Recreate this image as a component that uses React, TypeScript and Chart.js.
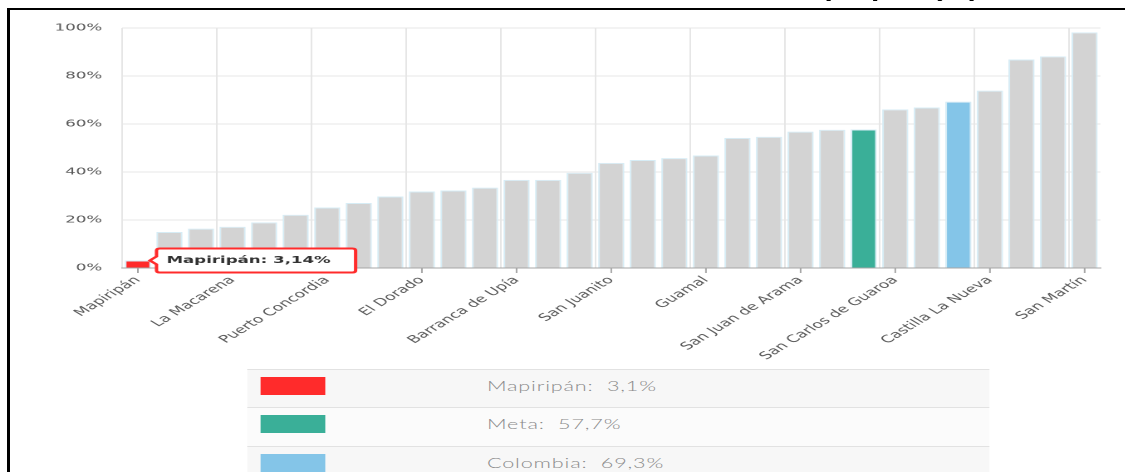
import React, { useEffect, useRef } from "react";
import { Chart, registerables, Tooltip } from "chart.js";

Chart.register(...registerables);

(Tooltip.positioners as any).barTop = function (items: any[]) {
  if (!items.length) return false;
  const el = items[0].element;
  return { x: el.x, y: el.y };
};

// ---------------- data ----------------
const titleText = "Gráfico 33. Cobertura de alcantarillado Mapiripán (%)";

const categories = [
  "Mapiripán", "Uribe", "Puerto Gaitán", "La Macarena", "Mesetas", "Vistahermosa",
  "Puerto Concordia", "Puerto Rico", "Puerto Lleras", "El Dorado", "El Calvario", "Lejanías",
  "Barranca de Upía", "El Castillo", "Cabuyaro", "San Juanito", "Fuente de Oro", "Puerto López",
  "Guamal", "Cubarral", "Granada", "San Juan de Arama", "Restrepo", "Meta",
  "San Carlos de Guaroa", "Cumaral", "Colombia", "Castilla La Nueva", "Acacías", "Villavicencio",
  "San Martín",
];

const coverage = [
  3.14, 15.0, 16.4, 17.2, 19.0, 22.2,
  25.2, 27.1, 29.8, 31.9, 32.3, 33.5,
  36.7, 36.7, 39.7, 43.8, 45.0, 45.8,
  46.9, 54.2, 54.7, 56.8, 57.6, 57.7,
  66.1, 66.9, 69.3, 73.9, 86.9, 88.2,
  98.2,
];

const labelEvery = 3;
const yMin = 0;
const yMax = 100;
const yStep = 20;

const legendNames = ["Mapiripán", "Meta", "Colombia"];
const legendValues = ["3,1%", "57,7%", "69,3%"];

// ---------------- style ----------------
const STRETCH = 1.66;
const RED = "#ff2b2b";
const GREEN = "#3aaf98";
const BLUE = "#84c5e8";
const GREY = "#d3d3d3";
const legendColors = [RED, GREEN, BLUE];
const FONT = "DejaVu Sans";

function barColor(name: string) {
  if (name === legendNames[0]) return RED;
  if (name === legendNames[1]) return GREEN;
  if (name === legendNames[2]) return BLUE;
  return GREY;
}

const tickMarks = {
  id: "tickMarks",
  afterDatasetsDraw(chart: any) {
    const xs = chart.scales.x;
    const { ctx, chartArea } = chart;
    ctx.save();
    ctx.strokeStyle = "#a6a6a6";
    ctx.lineWidth = 1;
    xs.ticks.forEach((_t: any, i: number) => {
      if (i % labelEvery !== 0) return;
      const px = xs.getPixelForTick(i);
      ctx.beginPath();
      ctx.moveTo(px, chartArea.bottom);
      ctx.lineTo(px, chartArea.bottom + 5);
      ctx.stroke();
    });
    ctx.restore();
  },
};

function BarChart() {
  const ref = useRef<HTMLCanvasElement | null>(null);
  useEffect(() => {
    if (!ref.current) return;
    const chart = new Chart(ref.current, {
      type: "bar",
      data: {
        labels: categories,
        datasets: [
          {
            data: coverage,
            backgroundColor: categories.map(barColor),
            borderColor: "rgba(214,236,245,1)",
            borderWidth: 1,
            barPercentage: 0.83,
            categoryPercentage: 1,
          },
        ],
      },
      options: {
        animation: false,
        responsive: true,
        maintainAspectRatio: false,
        devicePixelRatio: 2,
        events: [],
        layout: { padding: { left: 0, right: 15.3, top: 9, bottom: 0 } },
        plugins: {
          legend: { display: false },
          title: { display: false },
          tooltip: {
            enabled: true,
            position: "barTop" as any,
            xAlign: "left",
            yAlign: "center",
            backgroundColor: "#ffffff",
            borderColor: RED,
            borderWidth: 2,
            cornerRadius: 2,
            caretSize: 4,
            caretPadding: 0,
            displayColors: false,
            padding: { left: 6, right: 15, top: 6, bottom: 6 } as any,
            bodyColor: "#333333",
            bodyFont: { family: FONT, size: 10, weight: "bold" },
            callbacks: {
              title: () => "",
              label: (c: any) =>
                `${c.label}: ${c.parsed.y.toFixed(2).replace(".", ",")}%`,
            },
          },
        },
        scales: {
          x: {
            offset: true,
            grid: {
              offset: true,
              drawTicks: false,
              color: (c: any) =>
                c.index !== undefined && c.index % labelEvery === 0
                  ? "#e6e6e6"
                  : "rgba(0,0,0,0)",
            },
            border: { display: true, color: "#a6a6a6", width: 1 },
            ticks: {
              autoSkip: false,
              minRotation: 45,
              maxRotation: 45,
              padding: 6,
              color: "#5a5a5a",
              font: { family: FONT, size: 10.4 },
              callback: (_v: any, i: number) =>
                i % labelEvery === 0 ? categories[i] : "",
            },
            afterFit: (s: any) => {
              s.height = 102;
            },
          },
          y: {
            min: yMin,
            max: yMax,
            grid: { color: "#e6e6e6", drawTicks: false },
            border: { display: false },
            ticks: {
              stepSize: yStep,
              padding: 12,
              color: "#5a5a5a",
              font: { family: FONT, size: 10 },
              callback: (v: any) => `${v}%`,
            },
            afterFit: (s: any) => {
              s.width = 73.5;
            },
          },
        },
      },
      plugins: [tickMarks],
    });
    const el = chart.getDatasetMeta(0).data[0] as any;
    chart.tooltip?.setActiveElements([{ datasetIndex: 0, index: 0 }], {
      x: el.x,
      y: el.y,
    });
    chart.update();
    return () => chart.destroy();
  }, []);
  return <canvas ref={ref} />;
}

export default function App() {
  const innerW = 1125 / STRETCH;
  return (
    <div
      style={{
        position: "fixed",
        inset: 0,
        overflow: "hidden",
        background: "#ffffff",
      }}
    >
      <div
        style={{
          position: "absolute",
          left: 7,
          top: 8,
          width: 1300,
          height: 700,
          borderTop: "2px solid #000",
          borderLeft: "3px solid #000",
        }}
      />
      <div
        style={{
          position: "absolute",
          left: 0,
          top: 0,
          width: innerW,
          height: 472,
          transform: `scaleX(${STRETCH})`,
          transformOrigin: "0 0",
        }}
      >
        <div
          style={{
            position: "absolute",
            left: 0,
            top: -19,
            width: 725.4,
            textAlign: "center",
            fontFamily: "'Liberation Sans', Arial, sans-serif",
            fontWeight: "bold",
            fontSize: 18,
            lineHeight: "20px",
            color: "#000",
            whiteSpace: "nowrap",
          }}
        >
          {titleText}
        </div>
        <div
          style={{
            position: "absolute",
            left: 0,
            top: 10,
            width: innerW,
            height: 360,
          }}
        >
          <BarChart />
        </div>
        <div style={{ position: "absolute", left: 149.4, top: 369, width: 447 }}>
          {legendNames.map((n, i) => (
            <div
              key={n}
              style={{
                position: "relative",
                height: i === 1 ? 39 : 38,
                boxSizing: "border-box",
                borderTop: "1px solid #e2e2e2",
                background: i === 1 ? "#fbfbfb" : "#f7f7f7",
              }}
            >
              <div
                style={{
                  position: "absolute",
                  left: 7.2,
                  top: 7,
                  width: 39.2,
                  height: 18,
                  background: legendColors[i],
                }}
              />
              <div
                style={{
                  position: "absolute",
                  left: 144,
                  top: 0,
                  fontFamily: "Lato, 'Open Sans', sans-serif",
                  fontWeight: 300,
                  fontSize: 13,
                  letterSpacing: "0.5px",
                  lineHeight: "33px",
                  color: "#8a8a8a",
                  whiteSpace: "pre",
                }}
              >
                {`${n}:  ${legendValues[i]}`}
              </div>
            </div>
          ))}
        </div>
      </div>
    </div>
  );
}
